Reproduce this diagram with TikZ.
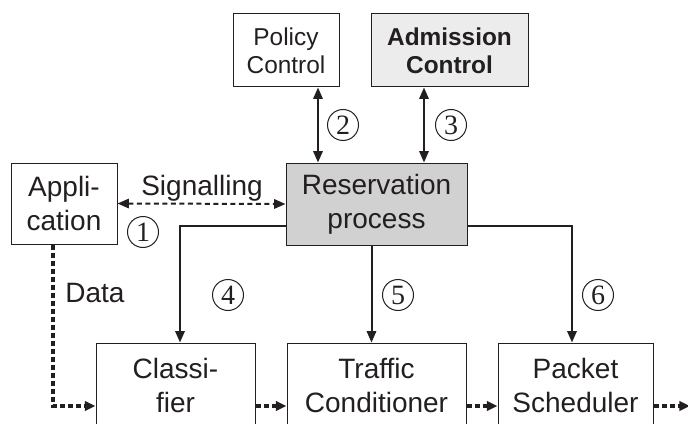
\documentclass[tikz,border=0pt]{standalone}
\usepackage{fontspec}
\setmainfont{Liberation Sans}
\newfontfamily\numfont{Liberation Serif}
\usetikzlibrary{arrows.meta}
\newlength\px
\setlength\px{0.75pt}
\definecolor{ink}{HTML}{231F20}
\definecolor{resgray}{HTML}{D1D1D1}
\definecolor{admgray}{HTML}{ECECEC}
\tikzset{
  box/.style={draw=ink, line width=1\px, text=ink, align=center, inner sep=0pt,
    font=\fontsize{21pt}{25.5pt}\selectfont},
  smallbox/.style={box, font=\fontsize{18.3pt}{21pt}\selectfont},
  ctrl/.style={ink, line width=2\px, -{Triangle[length=8.5pt, width=7pt]}},
  ctrlboth/.style={ink, line width=2\px, {Triangle[length=8.5pt, width=7pt]}-{Triangle[length=8.5pt, width=7pt]}},
  signal/.style={ink, line width=2\px, dash pattern=on 5\px off 3.5\px,
    {Triangle[length=8.5pt, width=7pt]}-{Triangle[length=8.5pt, width=7pt]}},
  flow/.style={ink, line width=4.5\px, dash pattern=on 5\px off 3\px,
    -{Triangle[length=8pt, width=7pt]}},
  num/.style={circle, draw=ink, line width=1\px, inner sep=0pt, minimum size=31\px,
    text=ink, font=\numfont\fontsize{21pt}{21pt}\selectfont},
  lbl/.style={text=ink, font=\fontsize{21pt}{25pt}\selectfont, inner sep=0pt}
}
\begin{document}
\begin{tikzpicture}[x=0.75pt, y=-0.75pt]
\clip (0,0) rectangle (688,424);

% component boxes
\node[box, minimum width=106\px, minimum height=81\px] (app) at (64,203.5) {Appli-\\cation};
\node[box, fill=resgray, minimum width=181\px, minimum height=82\px] (res) at (376.5,204) {Reservation\\process};
\node[smallbox, minimum width=106\px, minimum height=73\px] (pol) at (286,50.5) {Policy\\Control};
\node[smallbox, fill=admgray, minimum width=157\px, minimum height=73\px, font=\fontsize{18.3pt}{21pt}\selectfont\bfseries] (adm) at (449.5,50.5) {Admission\\Control};
\node[box, minimum width=159\px, minimum height=84\px] (cls) at (175.5,385) {Classi-\\fier};
\node[box, minimum width=179\px, minimum height=84\px] (trf) at (376.5,385) {Traffic\\Conditioner};
\node[box, minimum width=155\px, minimum height=84\px] (pkt) at (575.5,385) {Packet\\Scheduler};

% reference columns / rows for connectors
\coordinate (x2) at (318,0);
\coordinate (x3) at (424,0);
\coordinate (x4) at (180,0);
\coordinate (x5) at (371.5,0);
\coordinate (x6) at (572,0);
\coordinate (xd) at (53,0);
\coordinate (ybr) at (0,226);
\coordinate (yflow) at (0,406);
\coordinate (out) at (690,406);

% control interfaces
\draw[ctrlboth] (x2 |- pol.south) -- (x2 |- res.north);
\draw[ctrlboth] (x3 |- adm.south) -- (x3 |- res.north);
\draw[signal] (app.east) -- (res.west);
\draw[ctrl] (res.west |- ybr) -| (x4 |- cls.north);
\draw[ctrl] (x5 |- res.south) -- (x5 |- trf.north);
\draw[ctrl] (res.east |- ybr) -| (x6 |- pkt.north);

% data path
\draw[flow] (xd |- app.south) |- (cls.west |- yflow);
\draw[flow] (cls.east |- yflow) -- (trf.west |- yflow);
\draw[flow] (trf.east |- yflow) -- (pkt.west |- yflow);
\draw[flow] (pkt.east |- yflow) -- (out);

% labels
\node[lbl] (sig) at (202,188) {Signalling};
\node[lbl] (data) at (95,293) {Data};
\node[num] (n1) at (143,232) {1};
\node[num] (n2) at (343,125) {2};
\node[num] (n3) at (451,125) {3};
\node[num] (n4) at (228,295) {4};
\node[num] (n5) at (398,295) {5};
\node[num] (n6) at (598,295) {6};
\end{tikzpicture}
\end{document}
